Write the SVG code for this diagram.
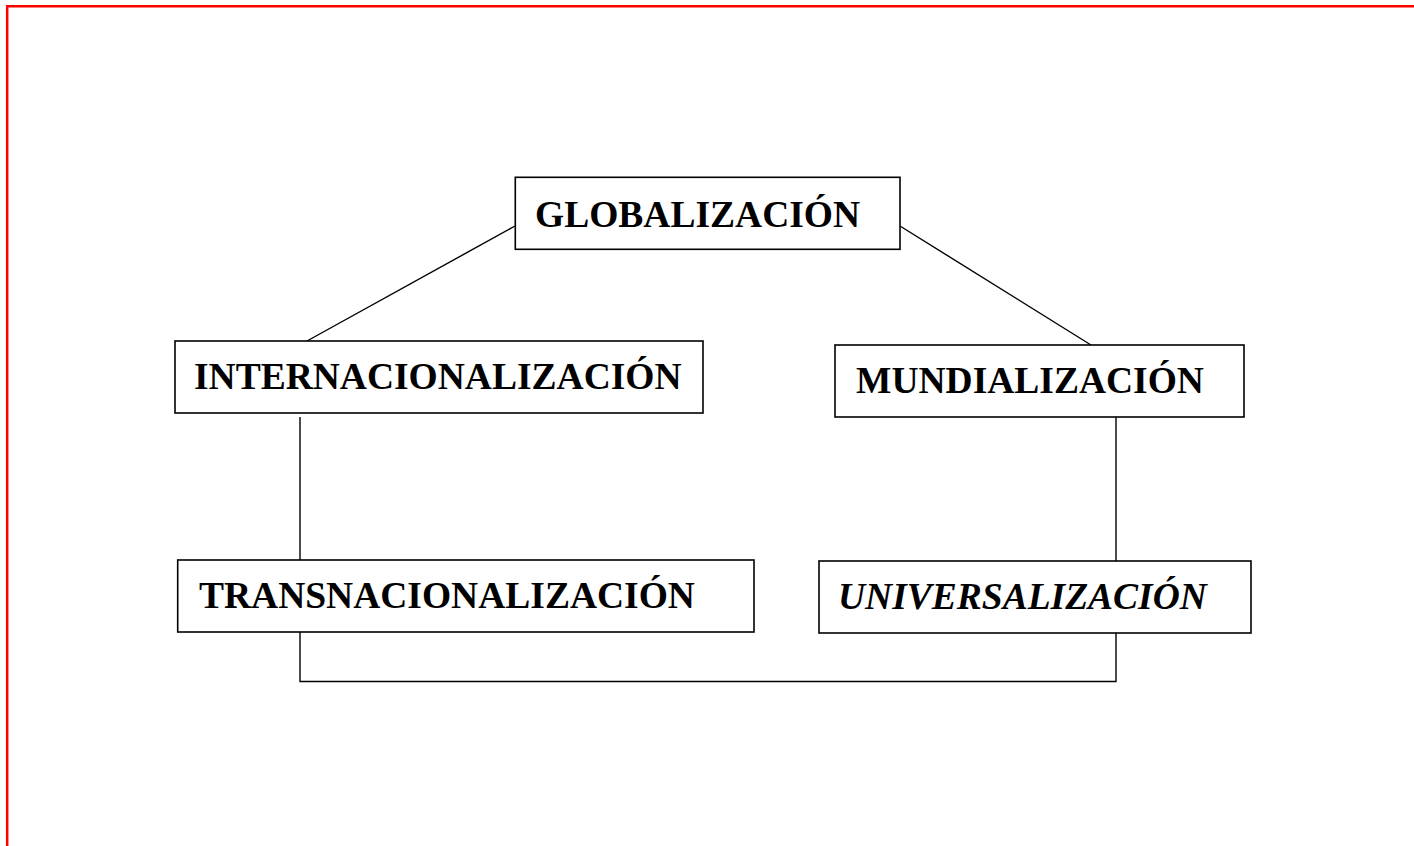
<svg xmlns="http://www.w3.org/2000/svg" width="1414" height="846" viewBox="0 0 1414 846">
<style>
.box{fill:#fff;stroke:#000;stroke-width:1.6}
.lbl{font-family:"Liberation Serif","Times New Roman",serif;font-weight:bold;font-size:37.5px;fill:#000}
.it{font-style:italic}
.con{fill:none;stroke:#000;stroke-width:1.4}
</style>
<rect width="1414" height="846" fill="#fff"/>
<path d="M7.2,846 V6.2 H1414" fill="none" stroke="#ff0000" stroke-width="2.5"/>
<g id="connectors">
<line class="con" x1="515" y1="226" x2="307" y2="341"/>
<line class="con" x1="900" y1="226" x2="1091" y2="345"/>
<line class="con" x1="300" y1="417" x2="300" y2="560"/>
<line class="con" x1="1116" y1="417" x2="1116" y2="561"/>
<path class="con" d="M300,632 V681.5 H1116 V633"/>
</g>
<g id="globalizacion">
<rect class="box" x="515.3" y="177.3" width="384.7" height="72"/>
<text class="lbl" x="535" y="226.5">GLOBALIZACIÓN</text>
</g>
<g id="internacionalizacion">
<rect class="box" x="175" y="341" width="528" height="72"/>
<text class="lbl" x="194" y="389">INTERNACIONALIZACIÓN</text>
</g>
<g id="mundializacion">
<rect class="box" x="835" y="345" width="409" height="72"/>
<text class="lbl" x="856" y="393">MUNDIALIZACIÓN</text>
</g>
<g id="transnacionalizacion">
<rect class="box" x="177.7" y="560" width="576.3" height="72"/>
<text class="lbl" x="199" y="608">TRANSNACIONALIZACIÓN</text>
</g>
<g id="universalizacion">
<rect class="box" x="819" y="561" width="432" height="72"/>
<text class="lbl it" x="838" y="609">UNIVERSALIZACIÓN</text>
</g>
</svg>
